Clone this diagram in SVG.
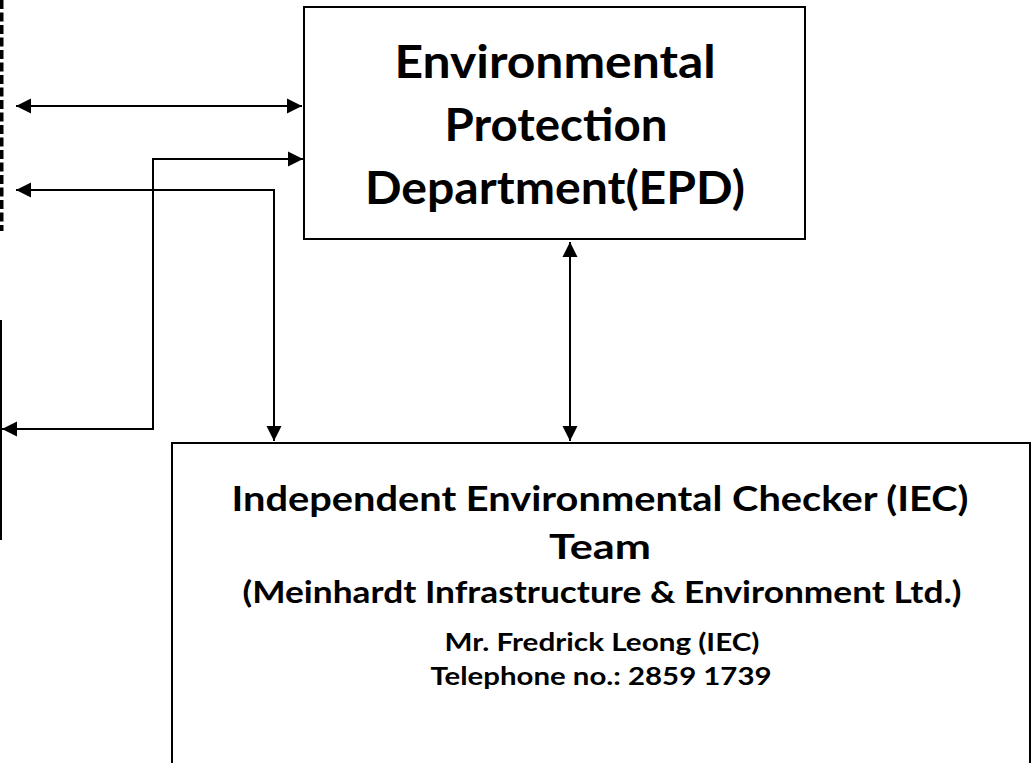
<svg xmlns="http://www.w3.org/2000/svg" width="1032" height="763" viewBox="0 0 1032 763">
<style>
.box{fill:#fff;stroke:#000;stroke-width:2}
.t{font-family:Lato,"Open Sans","Liberation Sans",sans-serif;font-weight:bold;fill:#000;text-anchor:middle}
.c{fill:none;stroke:#000;stroke-width:2}
</style>
<defs>
<marker id="ah" markerUnits="userSpaceOnUse" markerWidth="16" markerHeight="16" refX="15" refY="7.5" orient="auto-start-reverse" viewBox="0 0 16 15">
<path d="M0,0 L15,7.5 L0,15 z" fill="#000"/>
</marker>
</defs>
<rect width="1032" height="763" fill="#fff"/>
<g id="left-dashed-box">
<path d="M1.5,0 L1.5,229 L-4,229" fill="none" stroke="#000" stroke-width="4" stroke-dasharray="9 3.5"/>
</g>
<g id="left-solid-box">
<line x1="1" y1="320" x2="1" y2="540" stroke="#000" stroke-width="2"/>
</g>
<g id="epd">
<rect class="box" x="304" y="7" width="501" height="232"/>
<text class="t" x="555" y="78" font-size="46" textLength="321" lengthAdjust="spacingAndGlyphs">Environmental</text>
<text class="t" x="556" y="141" font-size="46" textLength="223" lengthAdjust="spacingAndGlyphs">Protection</text>
<text class="t" x="555" y="204" font-size="46" textLength="380" lengthAdjust="spacingAndGlyphs">Department(EPD)</text>
</g>
<g id="iec">
<rect class="box" x="172" y="443" width="858" height="340"/>
<text class="t" x="600" y="511" font-size="35" textLength="737" lengthAdjust="spacingAndGlyphs">Independent Environmental Checker (IEC)</text>
<text class="t" x="600" y="559" font-size="35" textLength="102" lengthAdjust="spacingAndGlyphs">Team</text>
<text class="t" x="602" y="603" font-size="30" textLength="719" lengthAdjust="spacingAndGlyphs">(Meinhardt Infrastructure &amp; Environment Ltd.)</text>
<text class="t" x="602" y="651" font-size="25" textLength="315" lengthAdjust="spacingAndGlyphs">Mr. Fredrick Leong (IEC)</text>
<text class="t" x="601" y="685" font-size="25" textLength="341" lengthAdjust="spacingAndGlyphs">Telephone no.: 2859 1739</text>
</g>
<g id="connectors">
<path class="c" d="M16,106 L302,106" marker-start="url(#ah)" marker-end="url(#ah)"/>
<path class="c" d="M303,159 L153,159 L153,429 L2,429" marker-start="url(#ah)" marker-end="url(#ah)"/>
<path class="c" d="M16,190 L274,190 L274,441" marker-start="url(#ah)" marker-end="url(#ah)"/>
<path class="c" d="M570,242 L570,441" marker-start="url(#ah)" marker-end="url(#ah)"/>
</g>
</svg>
